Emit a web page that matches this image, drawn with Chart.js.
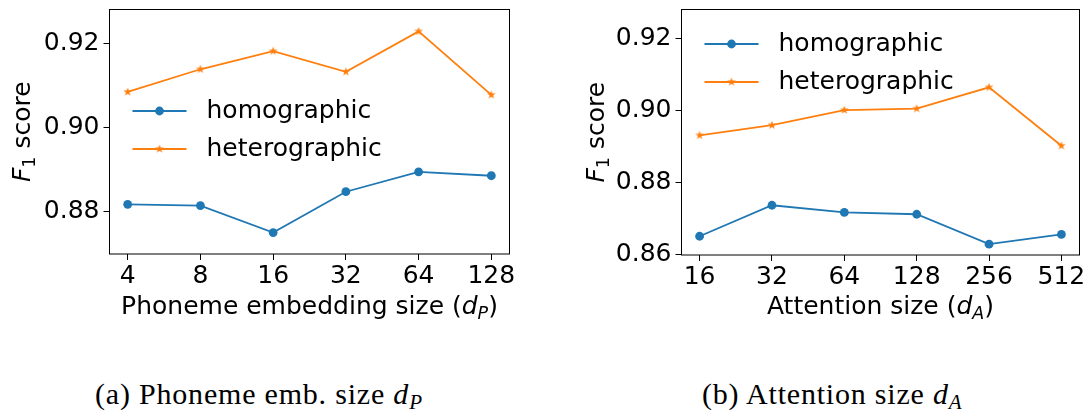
<!DOCTYPE html>
<html>
<head>
<meta charset="utf-8">
<script src="https://cdn.jsdelivr.net/npm/chart.js@4.4.1/dist/chart.umd.min.js"></script>
<style>
  body { margin: 0; background: #fff; width: 1090px; height: 412px; overflow: hidden; position: relative; }
  canvas { position: absolute; top: 0; }
  #chartP { left: 0; }
  #chartA { left: 545px; }
  .cap { position: absolute; font-family: "Liberation Serif", serif; font-size: 30px; line-height: 30px; letter-spacing: 0.8px; color: #000; white-space: nowrap; }
  .cap sub { font-size: 0.7em; line-height: 0; vertical-align: -0.25em; }
</style>
</head>
<body>
<canvas id="chartP" width="545" height="330"></canvas>
<canvas id="chartA" width="545" height="330"></canvas>
<div class="cap" id="capP" style="left:95px; top:379px;">(a) Phoneme emb. size <i>d</i><sub><i>P</i></sub></div>
<div class="cap" id="capA" style="left:702px; top:379px;">(b) Attention size <i>d</i><sub><i>A</i></sub></div>
<script>
// values
const sizesP = ['4', '8', '16', '32', '64', '128'];
const homoP = [0.8817, 0.8814, 0.8750, 0.8847, 0.8894, 0.8885];
const heteroP = [0.9084, 0.9138, 0.9181, 0.9132, 0.9228, 0.9077];
const ticksP = [0.88, 0.90, 0.92];

const sizesA = ['16', '32', '64', '128', '256', '512'];
const homoA = [0.8651, 0.8737, 0.8717, 0.8712, 0.8629, 0.8656];
const heteroA = [0.8931, 0.8959, 0.9001, 0.9005, 0.9064, 0.8902];
const ticksA = [0.86, 0.88, 0.90, 0.92];

const seriesNames = ['homographic', 'heterographic'];

const BLUE = '#1f77b4';
const ORANGE = '#ff7f0e';
const FONT = 'DejaVu Sans';

Chart.defaults.font.family = FONT;
Chart.defaults.font.size = 25;
Chart.defaults.color = '#000';

// filled 5 point star like matplotlib's '*'
function makeStar(r, color) {
    const c = document.createElement('canvas');
    const s = Math.ceil(r * 2) + 2;
    c.width = c.height = s;
    const g = c.getContext('2d');
    g.fillStyle = color;
    g.beginPath();
    for (let k = 0; k < 10; k++) {
        const rad = k % 2 ? r * 0.4 : r;
        const a = -Math.PI / 2 + k * Math.PI / 5;
        g.lineTo(s / 2 + rad * Math.cos(a), s / 2 + rad * Math.sin(a));
    }
    g.closePath();
    g.fill();
    return c;
}
const starImg = makeStar(4.6, ORANGE);

// text with italic / subscript pieces
function richText(ctx, parts, x, y) {
    const fontOf = p => (p.it ? 'italic ' : '') + (p.sub ? '17.5px ' : '25px ') + FONT;
    let total = 0;
    parts.forEach(p => { ctx.font = fontOf(p); p.w = ctx.measureText(p.t).width; total += p.w; });
    let cx = x - total / 2;
    ctx.textAlign = 'left';
    ctx.textBaseline = 'alphabetic';
    parts.forEach(p => {
        ctx.font = fontOf(p);
        ctx.fillText(p.t, cx, y + (p.sub ? 5 : 0));
        cx += p.w;
    });
}

const decor = {
    id: 'decor',
    afterDraw(chart, args, opts) {
        const { ctx, chartArea: a } = chart;
        ctx.save();
        // frame
        ctx.strokeStyle = '#000';
        ctx.lineWidth = 1;
        ctx.strokeRect(a.left, a.top, a.right - a.left, a.bottom - a.top);

        // legend inside the axes
        const marks = [
            { color: BLUE, draw: (x, y) => { ctx.fillStyle = BLUE; ctx.beginPath(); ctx.arc(x, y, 4.4, 0, Math.PI * 2); ctx.fill(); } },
            { color: ORANGE, draw: (x, y) => ctx.drawImage(starImg, x - starImg.width / 2, y - starImg.height / 2) }
        ];
        chart.data.datasets.forEach((ds, i) => {
            const y = a.top + opts.legendY[i];
            const x0 = a.left + 23, x1 = a.left + 77;
            ctx.strokeStyle = marks[i].color;
            ctx.lineWidth = 1.8;
            ctx.beginPath(); ctx.moveTo(x0, y); ctx.lineTo(x1, y); ctx.stroke();
            marks[i].draw((x0 + x1) / 2, y);
            ctx.fillStyle = '#000';
            ctx.font = '25px ' + FONT;
            ctx.textAlign = 'left';
            ctx.textBaseline = 'middle';
            ctx.fillText(ds.label, a.left + 97, y);
        });

        // axis titles
        ctx.fillStyle = '#000';
        richText(ctx, opts.xTitle, (a.left + a.right) / 2, opts.xTitleY);
        ctx.save();
        ctx.translate(opts.yTitleX, (a.top + a.bottom) / 2);
        ctx.rotate(-Math.PI / 2);
        richText(ctx, [{ t: 'F', it: true }, { t: '1', sub: true }, { t: ' score' }], 0, 0);
        ctx.restore();
        ctx.restore();
    }
};

function makeChart(id, labels, homo, hetero, yMin, yMax, yTicks, cfg) {
    const axisGrid = { drawOnChartArea: false, color: '#000', tickLength: 6, lineWidth: 1 };
    return new Chart(document.getElementById(id), {
        type: 'line',
        data: {
            datasets: [{
                label: seriesNames[0],
                data: homo.map((v, i) => ({ x: i, y: v })),
                borderColor: BLUE,
                backgroundColor: BLUE,
                borderWidth: 1.8,
                pointStyle: 'circle',
                pointRadius: 4.4,
                pointBorderWidth: 0,
                tension: 0
            }, {
                label: seriesNames[1],
                data: hetero.map((v, i) => ({ x: i, y: v })),
                borderColor: ORANGE,
                backgroundColor: ORANGE,
                borderWidth: 1.8,
                pointStyle: starImg,
                pointRadius: 4.4,
                tension: 0
            }]
        },
        options: {
            responsive: false,
            animation: false,
            events: [],
            layout: { padding: { top: cfg.top, right: cfg.right, left: 0, bottom: 0 } },
            plugins: { legend: { display: false }, tooltip: { enabled: false }, decor: cfg },
            scales: {
                x: {
                    type: 'linear',
                    min: -0.25,
                    max: 5.25,
                    afterBuildTicks: s => { s.ticks = labels.map((_, i) => ({ value: i })); },
                    afterFit: s => { s.height = cfg.xH; s.paddingLeft = 0; s.paddingRight = 0; },
                    ticks: { callback: v => labels[v], autoSkip: false, maxRotation: 0, padding: 1 },
                    grid: axisGrid,
                    border: { display: false }
                },
                y: {
                    min: yMin,
                    max: yMax,
                    afterBuildTicks: s => { s.ticks = yTicks.map(v => ({ value: v })); },
                    afterFit: s => { s.width = cfg.yW; s.paddingTop = 0; s.paddingBottom = 0; },
                    ticks: { callback: v => v.toFixed(2), padding: 4 },
                    grid: axisGrid,
                    border: { display: false }
                }
            }
        },
        plugins: [decor]
    });
}

makeChart('chartP', sizesP, homoP, heteroP, 0.8699, 0.928, ticksP, {
    top: 9.5, right: 35.5, yW: 109.5, xH: 76,
    legendY: [101.5, 139.5], xTitleY: 314, yTitleX: 30,
    xTitle: [{ t: 'Phoneme embedding size (' }, { t: 'd', it: true }, { t: 'P', it: true, sub: true }, { t: ')' }]
});

makeChart('chartA', sizesA, homoA, heteroA, 0.8599, 0.928, ticksA, {
    top: 9.5, right: 10.5, yW: 136.5, xH: 75,
    legendY: [34.5, 72.5], xTitleY: 314, yTitleX: 58.5,
    xTitle: [{ t: 'Attention size (' }, { t: 'd', it: true }, { t: 'A', it: true, sub: true }, { t: ')' }]
});
</script>
</body>
</html>
